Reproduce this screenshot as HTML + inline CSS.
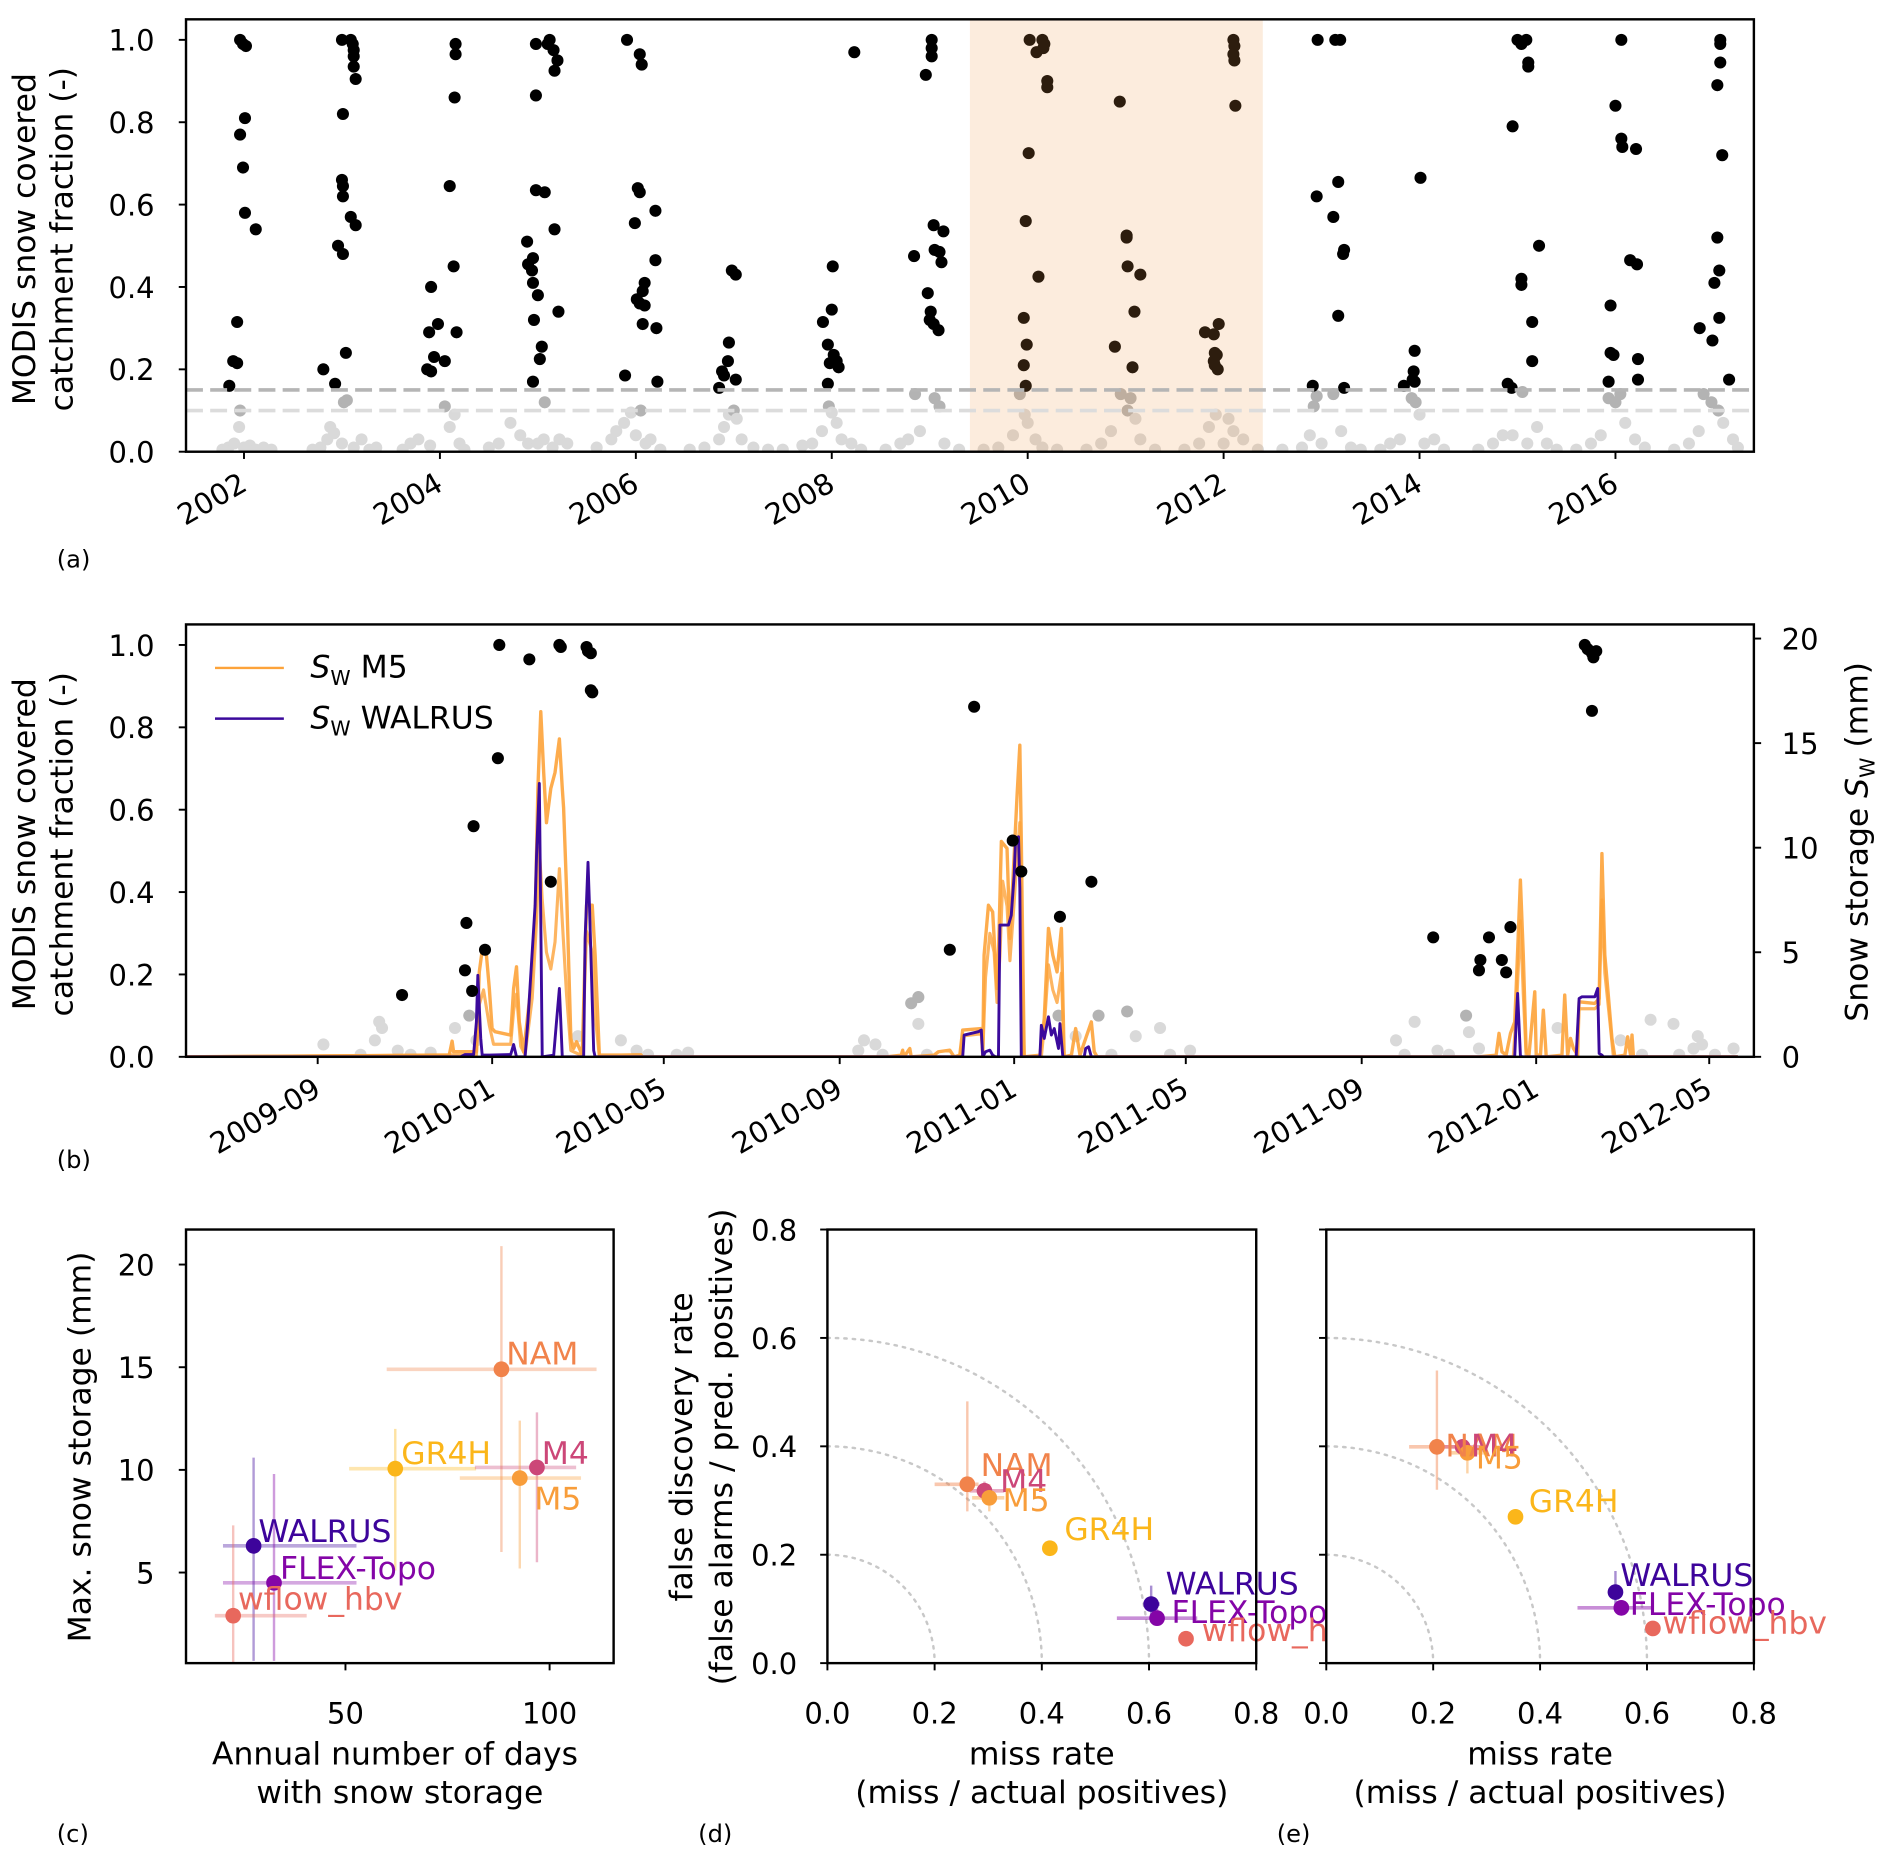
<!DOCTYPE html>
<html><head><meta charset="utf-8"><title>MODIS snow cover and model snow storage</title>
<style>
html,body{margin:0;padding:0;background:#fff;}
svg{display:block;font-family:"DejaVu Sans","Liberation Sans",sans-serif;}
</style></head>
<body>
<svg id="fig" xmlns="http://www.w3.org/2000/svg" width="1894" height="1860" viewBox="0 0 1568 1540" preserveAspectRatio="none">
<defs>
<clipPath id="clipA"><rect x="154" y="16" width="1298" height="357"/></clipPath>
<clipPath id="clipB"><rect x="154" y="517" width="1298" height="358"/></clipPath>
<clipPath id="clipC"><rect x="154" y="1018" width="354" height="359"/></clipPath>
<clipPath id="clipDlab"><rect x="0" y="1000" width="1098" height="400"/></clipPath>
<clipPath id="clipElab"><rect x="1090" y="1000" width="500" height="400"/></clipPath>
</defs>
<rect x="0" y="0" width="1568" height="1540" fill="#fff"/>
</svg>
<script>
// ---------------- DATA ----------------
const modisDetected = [
[2001.96,1.0],[2001.99,0.99],[2002.02,0.985],[2002.01,0.81],[2001.96,0.77],[2001.99,0.69],[2002.01,0.58],[2002.12,0.54],[2001.93,0.315],[2001.89,0.22],[2001.93,0.215],[2001.85,0.16],
[2003.0,1.0],[2003.09,1.0],[2003.11,0.99],[2003.12,0.975],[2003.12,0.96],[2003.12,0.935],[2003.14,0.905],[2003.01,0.82],[2003.0,0.66],[2003.01,0.645],[2003.01,0.62],[2003.09,0.57],[2003.14,0.55],[2002.96,0.50],[2003.01,0.48],[2003.04,0.24],[2002.81,0.20],[2002.93,0.165],
[2004.16,0.99],[2004.16,0.965],[2004.15,0.86],[2004.10,0.645],[2004.14,0.45],[2003.91,0.40],[2003.89,0.29],[2003.98,0.31],[2004.05,0.22],[2004.17,0.29],[2003.94,0.23],[2003.87,0.20],[2003.91,0.195],
[2004.98,0.99],[2005.12,1.0],[2005.10,0.99],[2005.16,0.975],[2005.20,0.95],[2005.17,0.925],[2004.98,0.865],[2004.98,0.635],[2005.07,0.63],[2005.17,0.54],[2004.89,0.51],[2004.95,0.47],[2004.90,0.455],[2004.94,0.44],[2004.95,0.41],[2005.0,0.38],[2005.21,0.34],[2004.96,0.32],[2005.04,0.255],[2005.02,0.225],[2004.95,0.17],
[2005.91,1.0],[2006.04,0.965],[2006.06,0.94],[2006.02,0.64],[2006.04,0.63],[2006.2,0.585],[2005.99,0.555],[2006.2,0.465],[2006.09,0.41],[2006.07,0.39],[2006.01,0.37],[2006.04,0.36],[2006.09,0.355],[2006.07,0.31],[2006.21,0.30],[2005.89,0.185],[2006.22,0.17],
[2006.98,0.44],[2007.02,0.43],[2006.95,0.265],[2006.94,0.22],[2006.88,0.195],[2006.90,0.185],[2007.02,0.175],[2006.85,0.155],
[2008.23,0.97],[2008.01,0.45],[2008.0,0.345],[2007.91,0.315],[2007.96,0.26],[2008.02,0.235],[2008.05,0.22],[2007.98,0.215],[2008.07,0.205],[2007.96,0.165],
[2009.02,1.0],[2009.02,0.98],[2009.02,0.96],[2008.96,0.915],[2009.04,0.55],[2009.14,0.535],[2008.84,0.475],[2009.05,0.49],[2009.10,0.485],[2009.12,0.46],[2008.98,0.385],[2009.01,0.34],[2009.0,0.32],[2009.04,0.31],[2009.09,0.295],
[2010.02,1.0],[2010.15,1.0],[2010.17,0.99],[2010.16,0.98],[2010.09,0.97],[2010.2,0.9],[2010.2,0.885],[2010.01,0.725],[2009.98,0.56],[2010.11,0.425],[2009.96,0.325],[2009.99,0.26],[2009.96,0.21],[2009.98,0.16],
[2010.94,0.85],[2011.01,0.525],[2011.01,0.52],[2011.02,0.45],[2011.15,0.43],[2011.09,0.34],[2010.89,0.255],[2011.07,0.205],
[2012.10,1.0],[2012.11,0.985],[2012.10,0.965],[2012.11,0.95],[2012.12,0.84],[2011.95,0.31],[2011.81,0.29],[2011.90,0.285],[2011.91,0.24],[2011.93,0.235],[2011.90,0.22],[2011.91,0.21],[2011.94,0.20],
[2012.96,1.0],[2013.14,1.0],[2013.19,1.0],[2012.95,0.62],[2013.12,0.57],[2013.17,0.655],[2013.23,0.49],[2013.22,0.48],[2013.17,0.33],[2012.91,0.16],[2013.23,0.155],
[2014.01,0.665],[2013.95,0.245],[2013.94,0.195],[2013.93,0.175],[2013.84,0.16],[2013.95,0.17],
[2015.0,1.0],[2015.09,1.0],[2015.04,0.99],[2015.11,0.945],[2015.11,0.935],[2014.95,0.79],[2015.22,0.50],[2015.04,0.42],[2015.04,0.405],[2015.15,0.315],[2015.15,0.22],[2014.9,0.165],[2014.94,0.155],
[2016.06,1.0],[2016.0,0.84],[2016.06,0.76],[2016.07,0.74],[2016.21,0.735],[2016.15,0.465],[2016.22,0.455],[2015.95,0.355],[2015.95,0.24],[2015.98,0.235],[2016.23,0.225],[2016.23,0.175],[2015.93,0.17],
[2017.07,1.0],[2017.07,0.99],[2017.07,0.945],[2017.04,0.89],[2017.09,0.72],[2017.04,0.52],[2017.06,0.44],[2017.01,0.41],[2017.06,0.325],[2016.99,0.27],[2016.86,0.30],[2017.16,0.175]
];
const modisLow = [
[2001.78,0.005],[2001.84,0.01],[2001.9,0.02],[2001.95,0.06],[2001.96,0.1],[2002.0,0.01],[2002.06,0.015],[2002.12,0.005],[2002.2,0.01],[2002.28,0.005],
[2002.7,0.005],[2002.78,0.01],[2002.85,0.03],[2002.88,0.06],[2002.92,0.045],[2003.02,0.12],[2003.05,0.125],[2003.0,0.02],[2003.12,0.01],[2003.2,0.03],[2003.28,0.005],[2003.35,0.01],
[2003.62,0.005],[2003.7,0.02],[2003.78,0.03],[2003.9,0.015],[2004.05,0.11],[2004.1,0.06],[2004.15,0.09],[2004.2,0.02],[2004.25,0.005],
[2004.5,0.01],[2004.6,0.02],[2004.72,0.07],[2004.82,0.04],[2004.9,0.02],[2005.0,0.02],[2005.06,0.03],[2005.07,0.12],[2005.15,0.01],[2005.22,0.03],[2005.3,0.02],
[2005.6,0.01],[2005.75,0.03],[2005.8,0.05],[2005.88,0.07],[2005.95,0.095],[2006.0,0.04],[2006.05,0.1],[2006.1,0.02],[2006.15,0.03],[2006.25,0.005],
[2006.55,0.005],[2006.7,0.01],[2006.85,0.03],[2006.9,0.06],[2006.95,0.09],[2007.0,0.1],[2007.03,0.08],[2007.08,0.03],[2007.2,0.01],[2007.35,0.005],
[2007.5,0.005],[2007.7,0.015],[2007.8,0.02],[2007.9,0.05],[2007.97,0.11],[2008.0,0.095],[2008.05,0.07],[2008.1,0.03],[2008.2,0.02],[2008.3,0.005],
[2008.55,0.005],[2008.7,0.02],[2008.78,0.03],[2008.85,0.14],[2008.9,0.05],[2009.05,0.13],[2009.1,0.11],[2009.15,0.02],[2009.3,0.005],
[2009.55,0.005],[2009.7,0.01],[2009.85,0.04],[2009.92,0.14],[2009.97,0.09],[2010.0,0.07],[2010.08,0.03],[2010.15,0.01],[2010.3,0.005],
[2010.6,0.005],[2010.75,0.02],[2010.85,0.05],[2010.95,0.14],[2011.02,0.1],[2011.05,0.13],[2011.1,0.08],[2011.15,0.03],[2011.3,0.005],
[2011.6,0.005],[2011.75,0.02],[2011.85,0.06],[2011.92,0.09],[2012.0,0.02],[2012.05,0.08],[2012.1,0.05],[2012.2,0.03],[2012.35,0.005],
[2012.6,0.005],[2012.8,0.01],[2012.88,0.04],[2012.92,0.11],[2012.95,0.135],[2013.0,0.02],[2013.12,0.14],[2013.2,0.05],[2013.3,0.01],[2013.4,0.005],
[2013.6,0.005],[2013.7,0.02],[2013.8,0.03],[2013.92,0.13],[2013.96,0.12],[2014.0,0.09],[2014.05,0.02],[2014.15,0.03],[2014.25,0.005],
[2014.6,0.005],[2014.75,0.02],[2014.85,0.04],[2014.95,0.04],[2015.05,0.145],[2015.1,0.02],[2015.2,0.06],[2015.3,0.02],[2015.4,0.005],
[2015.6,0.005],[2015.75,0.02],[2015.85,0.04],[2015.93,0.13],[2016.0,0.12],[2016.05,0.14],[2016.1,0.07],[2016.2,0.03],[2016.3,0.01],
[2016.6,0.005],[2016.75,0.02],[2016.85,0.05],[2016.9,0.14],[2016.98,0.12],[2017.05,0.1],[2017.1,0.07],[2017.2,0.03],[2017.25,0.01]
];
const yearTicks = [2002,2004,2006,2008,2010,2012,2014,2016];
const fracTicks = [0.0,0.2,0.4,0.6,0.8,1.0];
const thresholds = [0.15,0.10];
const focusPeriod = [2009.41,2012.40];

const modisZoom = [
["2010-01-06",1.0],["2010-01-27",0.965],["2010-02-17",1.0],["2010-02-18",0.995],["2010-03-08",0.995],["2010-03-09",0.985],["2010-03-11",0.98],["2010-03-11",0.89],["2010-03-12",0.885],["2010-01-05",0.725],["2009-12-19",0.56],["2010-02-11",0.425],["2009-12-14",0.325],["2009-12-27",0.26],["2009-12-13",0.21],["2009-12-18",0.16],
["2010-12-04",0.85],["2010-12-31",0.525],["2011-01-06",0.45],["2011-02-02",0.34],["2011-02-24",0.425],["2010-11-17",0.26],
["2011-10-21",0.29],["2011-11-29",0.29],["2011-12-14",0.315],["2011-11-23",0.235],["2011-12-08",0.235],["2011-11-22",0.21],["2011-12-11",0.205],["2012-02-04",1.0],["2012-02-06",0.99],["2012-02-09",0.98],["2012-02-12",0.985],["2012-02-10",0.97],["2012-02-09",0.84],
["2009-10-30",0.15],["2009-09-05",0.03],["2009-10-14",0.085],["2009-10-16",0.07],["2009-10-11",0.04],["2009-10-27",0.015],["2009-11-19",0.01],["2009-12-06",0.07],["2009-12-16",0.1],["2009-12-21",0.04],["2010-03-02",0.05],["2010-04-01",0.04],["2010-04-12",0.015],["2010-05-18",0.01],
["2010-09-18",0.04],["2010-09-26",0.03],["2010-10-21",0.13],["2010-10-26",0.145],["2010-10-26",0.08],["2010-09-14",0.015],["2011-02-01",0.1],["2011-03-01",0.1],["2011-03-21",0.11],["2011-03-27",0.05],["2011-04-13",0.07],["2011-05-04",0.015],["2011-02-13",0.05],
["2011-09-25",0.04],["2011-10-08",0.085],["2011-10-24",0.015],["2011-11-13",0.1],["2011-11-15",0.06],["2011-11-22",0.02],["2012-01-16",0.07],["2012-02-29",0.04],["2012-03-21",0.09],["2012-04-06",0.08],["2012-04-23",0.05],["2012-04-26",0.03],["2012-05-18",0.02],["2012-04-20",0.02],
["2009-10-01",0.005],["2009-11-05",0.005],["2010-04-20",0.005],["2010-05-10",0.005],["2010-10-01",0.005],["2010-11-01",0.005],["2011-03-10",0.005],["2011-04-20",0.005],["2011-10-01",0.005],["2011-11-01",0.005],["2012-03-15",0.005],["2012-04-10",0.005],["2012-05-05",0.005]
];
const swM5Upper = [
["2009-06-01",0],["2009-11-25",0.08],["2009-12-02",0.08],["2009-12-04",0.75],["2009-12-05",0.24],["2009-12-21",0.24],["2009-12-23",4.06],["2009-12-25",5.1],["2009-12-28",4.86],["2009-12-30",3.27],["2010-01-01",1.35],["2010-01-03",1.2],["2010-01-14",1.04],["2010-01-16",3.27],["2010-01-18",4.3],["2010-01-20",1.67],["2010-01-23",0.24],["2010-01-28",3.27],["2010-01-31",6.46],["2010-02-02",12.83],["2010-02-04",16.5],["2010-02-06",13.6],["2010-02-08",11.2],["2010-02-11",12.83],["2010-02-14",13.6],["2010-02-17",15.2],["2010-02-19",12.83],["2010-02-20",11.9],["2010-02-22",8.05],["2010-02-25",0.88],["2010-02-27",0.4],["2010-03-01",0.72],["2010-03-05",0.08],["2010-03-08",7.25],["2010-03-12",7.25],["2010-03-14",4.86],["2010-03-17",0.08],["2010-04-01",0.08],["2010-04-15",0.1],["2010-04-16",0],
["2010-10-04",0],["2010-10-14",0.08],["2010-10-15",0.32],["2010-10-16",0],["2010-10-20",0.4],["2010-10-21",0],["2010-11-06",0.08],["2010-11-09",0.24],["2010-11-17",0.32],["2010-11-20",0],["2010-11-24",0.08],["2010-11-26",1.28],["2010-12-09",1.35],["2010-12-10",0.08],["2010-12-11",4.86],["2010-12-14",7.25],["2010-12-17",6.93],["2010-12-20",3.27],["2010-12-21",4.86],["2010-12-23",10.3],["2010-12-27",9.96],["2010-12-29",5.66],["2011-01-01",9.64],["2011-01-03",12.5],["2011-01-05",14.9],["2011-01-06",10.4],["2011-01-08",0],["2011-01-19",0.08],["2011-01-22",1.83],["2011-01-25",6.14],["2011-01-28",4.86],["2011-01-31",4.06],["2011-02-03",6.14],["2011-02-05",0],["2011-02-10",0.08],["2011-02-13",1.35],["2011-02-16",0.08],["2011-02-20",0.88],["2011-02-24",1.67],["2011-02-26",0.24],["2011-02-28",0],
["2011-11-22",0],["2011-12-04",0.08],["2011-12-06",1.12],["2011-12-08",0.24],["2011-12-11",0.08],["2011-12-14",1.12],["2011-12-17",1.67],["2011-12-18",3.27],["2011-12-21",8.45],["2011-12-23",4.86],["2011-12-25",0.24],["2011-12-27",0.08],["2011-12-31",3.11],["2012-01-01",0.08],["2012-01-04",0.08],["2012-01-06",2.23],["2012-01-08",0],["2012-01-19",0.08],["2012-01-21",2.95],["2012-01-23",0.08],["2012-01-25",0.88],["2012-01-27",0.4],["2012-01-30",0.08],["2012-01-31",2.63],["2012-02-11",2.55],["2012-02-14",2.79],["2012-02-16",9.72],["2012-02-18",4.86],["2012-02-20",3.27],["2012-02-23",0.88],["2012-02-25",0],["2012-03-03",0.08],["2012-03-05",0.96],["2012-03-07",0.08],["2012-03-08",1.04],["2012-03-09",0],["2012-05-21",0]
];
const swM5Lower = [
["2009-06-01",0],["2009-12-21",0.1],["2009-12-23",2.5],["2009-12-26",3.2],["2009-12-30",1.5],["2010-01-02",0.6],["2010-01-14",0.6],["2010-01-16",2.2],["2010-01-18",3.0],["2010-01-21",0.5],["2010-01-24",0.1],["2010-01-29",2.8],["2010-02-01",6.5],["2010-02-03",10.0],["2010-02-05",7.5],["2010-02-08",5.0],["2010-02-11",4.2],["2010-02-14",5.5],["2010-02-17",9.0],["2010-02-19",6.5],["2010-02-22",3.0],["2010-02-25",0.3],["2010-03-05",0.05],["2010-03-08",6.0],["2010-03-12",5.0],["2010-03-14",2.0],["2010-03-17",0],
["2010-11-24",0],["2010-11-26",1.0],["2010-12-09",1.1],["2010-12-10",0.05],["2010-12-12",3.8],["2010-12-15",5.9],["2010-12-18",5.0],["2010-12-20",2.6],["2010-12-22",4.8],["2010-12-24",8.4],["2010-12-27",7.2],["2010-12-29",4.6],["2011-01-01",7.4],["2011-01-03",9.6],["2011-01-05",11.2],["2011-01-06",7.0],["2011-01-08",0],["2011-01-20",0],["2011-01-22",1.4],["2011-01-25",4.4],["2011-01-28",3.2],["2011-01-31",2.6],["2011-02-03",4.0],["2011-02-05",0],
["2011-12-16",0],["2011-12-18",2.0],["2011-12-21",6.5],["2011-12-23",3.0],["2011-12-25",0],["2012-01-29",0],["2012-01-31",2.3],["2012-02-11",2.3],["2012-02-14",2.5],["2012-02-16",7.5],["2012-02-18",4.0],["2012-02-21",2.0],["2012-02-24",0],["2012-05-21",0]
];
const swWalrus = [
["2009-06-01",0],["2009-12-10",0],["2009-12-13",0.11],["2009-12-19",0.11],["2009-12-21",1.67],["2009-12-22",3.9],["2009-12-24",0.88],["2009-12-25",0.08],["2009-12-30",0.08],["2010-01-14",0.11],["2010-01-16",0.59],["2010-01-18",0],["2010-01-24",0],["2010-01-26",1.67],["2010-01-28",3.9],["2010-01-31",7.25],["2010-02-01",9.64],["2010-02-03",13.07],["2010-02-05",0],["2010-02-13",0.08],["2010-02-15",1.67],["2010-02-17",3.27],["2010-02-19",0],["2010-03-06",0],["2010-03-07",5.66],["2010-03-09",9.3],["2010-03-10",7.25],["2010-03-13",0.3],["2010-03-14",0],
["2010-11-26",0],["2010-11-27",1.04],["2010-12-07",1.2],["2010-12-09",1.28],["2010-12-10",0],["2010-12-12",0.24],["2010-12-15",0.32],["2010-12-17",0.08],["2010-12-19",0],["2010-12-21",0],["2010-12-22",6.3],["2010-12-28",6.3],["2010-12-30",6.77],["2011-01-01",8.69],["2011-01-02",10.44],["2011-01-04",10.52],["2011-01-05",8.05],["2011-01-06",0],["2011-01-19",0],["2011-01-20",1.51],["2011-01-22",0.88],["2011-01-25",1.91],["2011-01-27",1.04],["2011-01-29",1.35],["2011-02-01",0.4],["2011-02-02",1.59],["2011-02-04",0],["2011-02-19",0],["2011-02-20",0.4],["2011-02-22",0.48],["2011-02-24",0],
["2011-12-17",0],["2011-12-18",1.67],["2011-12-19",3.03],["2011-12-21",0.08],["2011-12-22",0],["2012-01-29",0],["2012-01-31",2.79],["2012-02-02",2.87],["2012-02-11",2.87],["2012-02-13",3.27],["2012-02-14",0.16],["2012-02-16",0.08],["2012-02-17",0],["2012-05-21",0]
];
const dateTicks = ["2009-09-01","2010-01-01","2010-05-01","2010-09-01","2011-01-01","2011-05-01","2011-09-01","2012-01-01","2012-05-01"];
const storageTicks = [0,5,10,15,20];

const models = ["NAM","GR4H","M4","M5","WALRUS","FLEX-Topo","wflow_hbv"];
const modelColors = ["#f1834b","#fbb61a","#cc4778","#f89d3a","#3d049b","#8405a7","#e8685d"];
const daysMean = [88.2,62.2,96.9,92.7,27.5,32.5,22.5];
const daysLow  = [60.1,50.9,81.7,78.0,20.0,20.0,18.0];
const daysHigh = [111.5,82.0,106.5,107.7,52.7,52.7,40.5];
const maxSwMean = [14.9,10.06,10.12,9.6,6.3,4.5,2.9];
const maxSwLow  = [6.0,5.1,5.5,5.2,0.7,0.7,0.0];
const maxSwHigh = [20.9,12.0,12.8,12.4,10.6,9.8,7.3];
const missD = [0.261,0.415,0.293,0.302,0.604,0.615,0.669];
const missDLow = [0.20,0.41,0.265,0.27,0.59,0.54,0.66];
const missDHigh = [0.282,0.42,0.33,0.33,0.62,0.69,0.68];
const fdrD = [0.33,0.212,0.318,0.305,0.109,0.083,0.045];
const fdrDLow = [0.28,0.205,0.30,0.28,0.075,0.07,0.04];
const fdrDHigh = [0.483,0.215,0.335,0.33,0.143,0.10,0.05];
const missE = [0.207,0.354,0.255,0.264,0.541,0.552,0.611];
const missELow = [0.155,0.35,0.20,0.23,0.53,0.47,0.605];
const missEHigh = [0.265,0.36,0.29,0.30,0.55,0.61,0.62];
const fdrE = [0.399,0.27,0.399,0.388,0.131,0.102,0.064];
const fdrELow = [0.32,0.265,0.38,0.35,0.10,0.09,0.06];
const fdrEHigh = [0.54,0.275,0.41,0.40,0.17,0.115,0.07];
const daysTicks = [50,100];
const maxSwTicks = [5,10,15,20];
const rateTicks = [0.0,0.2,0.4,0.6,0.8];
const arcRadii = [0.2,0.4,0.6];

// ---------------- HELPERS ----------------
const NS = "http://www.w3.org/2000/svg";
const svg = document.getElementById("fig");
function mk(tag, attrs, parent){
  const e = document.createElementNS(NS, tag);
  for (const k in attrs) e.setAttribute(k, attrs[k]);
  (parent || svg).appendChild(e);
  return e;
}
function txt(x, y, s, attrs, parent){
  const t = mk("text", Object.assign({x:x, y:y, fill:"#000"}, attrs), parent);
  t.textContent = s;
  return t;
}
const TICK_FS = 24, LAB_FS = 26;
const day0 = Date.parse("2009-09-01");
function dayOf(s){ return (Date.parse(s) - day0) / 864e5; }

// ---------------- PANEL (a) ----------------
const xa = yr => 202 + (yr - 2002) * 81.1;
const ya = v => 374 - v * 341;
const gA = mk("g", {"clip-path":"url(#clipA)"});


modisLow.forEach(p => {
  const c = mk("circle", {cx:xa(p[0]), cy:ya(p[1]), r:5, fill: p[1] >= 0.1 ? "#b3b3b3" : "#d9d9d9"}, gA);
  
  
});
modisDetected.forEach(p => {
  const c = mk("circle", {cx:xa(p[0]), cy:ya(p[1]), r:5, fill:"#000"}, gA);
  
  
});
const shade = mk("rect", {x:xa(focusPeriod[0]), y:16, width:xa(focusPeriod[1]) - xa(focusPeriod[0]), height:358, fill:"rgb(237,153,74)", "fill-opacity":0.19}, gA);


thresholds.forEach((t, i) => {
  const l = mk("line", {x1:154, x2:1452, y1:ya(t), y2:ya(t), stroke: i === 0 ? "#b5b5b5" : "#dcdcdc", "stroke-width":3, "stroke-dasharray":"14 6"}, gA);
  
  
});
const frA = mk("rect", {x:154, y:16, width:1298, height:358, fill:"none", stroke:"#000", "stroke-width":2});


fracTicks.forEach(v => {
  const tk = mk("line", {x1:148, x2:154, y1:ya(v), y2:ya(v), stroke:"#000", "stroke-width":1.6});
  
  
  const tl = txt(128, ya(v) + 9, v.toFixed(1), {"text-anchor":"end", "font-size":TICK_FS});
  
  
});
yearTicks.forEach(yr => {
  const tk = mk("line", {x1:xa(yr), x2:xa(yr), y1:374, y2:380, stroke:"#000", "stroke-width":1.6});
  
  
  const tl = txt(0, 0, String(yr), {"text-anchor":"end", "font-size":24, transform:"translate(" + (xa(yr) + 4) + ",405) rotate(-30)"});
  
  
});
function ylabel2(cx, cy, l1, l2, name){
  const g = mk("g", {transform:"translate(" + cx + "," + cy + ") rotate(-90)"});
  
  
  txt(0, -7, l1, {"text-anchor":"middle", "font-size":LAB_FS}, g);
  txt(0, 24, l2, {"text-anchor":"middle", "font-size":LAB_FS}, g);
  return g;
}
ylabel2(36, 198, "MODIS snow covered", "catchment fraction (-)", "panel-a-y-axis-title");
const la = txt(47, 470, "(a)", {"font-size":20});



// ---------------- PANEL (b) ----------------
const xb = d => 263 + dayOf(d) * 1.184;
const yb = v => 875 - v * 341;
const yb2 = mm => 875 - mm * 17.315;
const gB = mk("g", {"clip-path":"url(#clipB)"});


modisZoom.filter(p => p[1] < 0.15).forEach(p => {
  const c = mk("circle", {cx:xb(p[0]), cy:yb(p[1]), r:5, fill: p[1] >= 0.1 ? "#b3b3b3" : "#d9d9d9"}, gB);
  
  
});
function seriesPath(arr){ return arr.map((p, i) => (i ? "L" : "M") + xb(p[0]).toFixed(1) + "," + yb2(p[1]).toFixed(1)).join(" "); }
const m5l = mk("path", {d:seriesPath(swM5Lower), fill:"none", stroke:"#fda33a", "stroke-width":2.6, "stroke-opacity":0.8, "stroke-linejoin":"round"}, gB);


const m5u = mk("path", {d:seriesPath(swM5Upper), fill:"none", stroke:"#fda33a", "stroke-width":2.8, "stroke-opacity":0.9, "stroke-linejoin":"round"}, gB);


const wl = mk("path", {d:seriesPath(swWalrus), fill:"none", stroke:"#3b0a9c", "stroke-width":2.4, "stroke-linejoin":"round"}, gB);


modisZoom.filter(p => p[1] >= 0.15).forEach(p => {
  const c = mk("circle", {cx:xb(p[0]), cy:yb(p[1]), r:5, fill:"#000"}, gB);
  
  
});
const frB = mk("rect", {x:154, y:517, width:1298, height:358, fill:"none", stroke:"#000", "stroke-width":2});


fracTicks.forEach(v => {
  const tk = mk("line", {x1:148, x2:154, y1:yb(v), y2:yb(v), stroke:"#000", "stroke-width":1.6});
  
  
  const tl = txt(128, yb(v) + 9, v.toFixed(1), {"text-anchor":"end", "font-size":TICK_FS});
  
  
});
storageTicks.forEach(v => {
  const tk = mk("line", {x1:1452, x2:1458, y1:yb2(v), y2:yb2(v), stroke:"#000", "stroke-width":1.6});
  
  
  const tl = txt(1475, yb2(v) + 9, String(v), {"font-size":TICK_FS});
  
  
});
dateTicks.forEach(d => {
  const x = xb(d);
  const tk = mk("line", {x1:x, x2:x, y1:875, y2:881, stroke:"#000", "stroke-width":1.6});
  
  
  const tl = txt(0, 0, d.slice(0, 7), {"text-anchor":"end", "font-size":24, transform:"translate(" + (x + 4) + ",906) rotate(-30)"});
  
  
});
ylabel2(36, 699, "MODIS snow covered", "catchment fraction (-)", "panel-b-y-axis-title");
const rl = mk("text", {x:0, y:0, "text-anchor":"middle", "font-size":LAB_FS, transform:"translate(1546,697) rotate(-90)"});


rl.innerHTML = 'Snow storage <tspan font-style="italic">S</tspan><tspan font-size="17" dy="6">W</tspan><tspan dy="-6"> (mm)</tspan>';
const lg = mk("g", {});


const le1 = mk("line", {x1:178, x2:235, y1:553, y2:553, stroke:"#fda33a", "stroke-width":2}, lg);


const lt1 = mk("text", {x:257, y:561, "font-size":LAB_FS}, lg);


lt1.innerHTML = '<tspan font-style="italic">S</tspan><tspan font-size="17" dy="6">W</tspan><tspan dy="-6"> M5</tspan>';
const le2 = mk("line", {x1:178, x2:235, y1:595, y2:595, stroke:"#3b0a9c", "stroke-width":2}, lg);


const lt2 = mk("text", {x:257, y:603, "font-size":LAB_FS}, lg);


lt2.innerHTML = '<tspan font-style="italic">S</tspan><tspan font-size="17" dy="6">W</tspan><tspan dy="-6"> WALRUS</tspan>';
const lb = txt(47, 967, "(b)", {"font-size":20});



// ---------------- PANEL (c) ----------------
const xc = v => 286 + (v - 50) * 3.38;
const yc = v => 1387 - v * 17;
const gC = mk("g", {"clip-path":"url(#clipC)"});


const labOffC = [[4,-4],[5,-4],[4,-3],[12,26],[4,-3],[5,-3],[4,-5]];
models.forEach((m, i) => {
  const col = modelColors[i];
  const h = mk("line", {x1:xc(daysLow[i]), x2:xc(daysHigh[i]), y1:yc(maxSwMean[i]), y2:yc(maxSwMean[i]), stroke:col, "stroke-width":3, "stroke-opacity":0.35}, gC);
  
  
  const v = mk("line", {x1:xc(daysMean[i]), x2:xc(daysMean[i]), y1:yc(maxSwLow[i]), y2:yc(maxSwHigh[i]), stroke:col, "stroke-width":2, "stroke-opacity":0.4}, gC);
  
  
});
models.forEach((m, i) => {
  const p = mk("circle", {cx:xc(daysMean[i]), cy:yc(maxSwMean[i]), r:6.5, fill:modelColors[i]}, gC);
  
  
  const t = txt(xc(daysMean[i]) + labOffC[i][0], yc(maxSwMean[i]) + labOffC[i][1], m, {"font-size":LAB_FS, fill:modelColors[i]});
  
  
});
const frC = mk("rect", {x:154, y:1018, width:354, height:359, fill:"none", stroke:"#000", "stroke-width":2});


daysTicks.forEach(v => {
  const tk = mk("line", {x1:xc(v), x2:xc(v), y1:1377, y2:1383, stroke:"#000", "stroke-width":1.6});
  
  
  const tl = txt(xc(v), 1427, String(v), {"text-anchor":"middle", "font-size":TICK_FS});
  
  
});
maxSwTicks.forEach(v => {
  const tk = mk("line", {x1:148, x2:154, y1:yc(v), y2:yc(v), stroke:"#000", "stroke-width":1.6});
  
  
  const tl = txt(128, yc(v) + 9, String(v), {"text-anchor":"end", "font-size":TICK_FS});
  
  
});
const cyl = txt(0, 0, "Max. snow storage (mm)", {"text-anchor":"middle", "font-size":LAB_FS, transform:"translate(75,1198) rotate(-90)"});


const cx1 = txt(327, 1461, "Annual number of days", {"text-anchor":"middle", "font-size":LAB_FS});


const cx2 = txt(331, 1493, "with snow storage", {"text-anchor":"middle", "font-size":LAB_FS});


const lc = txt(47, 1525, "(c)", {"font-size":20});



// ---------------- PANELS (d) & (e) ----------------
const yr = v => 1377 - v * 448.75;
function drawRatePanel(left, sx, miss, mLo, mHi, fdr, fLo, fHi, offs, clipId, panelName){
  const xr = v => left + v * sx;
  const bg = mk("rect", {x:left, y:1018, width:0.8 * sx, height:359, fill:"#fff"});
  
  
  const g = mk("g", {"clip-path":"url(#" + clipId + ")"});
  
  
  arcRadii.forEach(r => {
    const a = mk("path", {d:"M" + xr(0) + "," + yr(r) + " A" + (r * sx) + "," + (r * 448.75) + " 0 0 1 " + xr(r) + "," + yr(0), fill:"none", stroke:"#c8c8c8", "stroke-width":2, "stroke-dasharray":"2 5", "stroke-linecap":"round"}, g);
    
    
  });
  models.forEach((m, i) => {
    const col = modelColors[i];
    const h = mk("line", {x1:xr(mLo[i]), x2:xr(mHi[i]), y1:yr(fdr[i]), y2:yr(fdr[i]), stroke:col, "stroke-width":3, "stroke-opacity":0.45}, g);
    
    
    const v = mk("line", {x1:xr(miss[i]), x2:xr(miss[i]), y1:yr(fLo[i]), y2:yr(fHi[i]), stroke:col, "stroke-width":2, "stroke-opacity":0.45}, g);
    
    
  });
  models.forEach((m, i) => {
    const p = mk("circle", {cx:xr(miss[i]), cy:yr(fdr[i]), r:6.5, fill:modelColors[i]}, g);
    
    
  });
  models.forEach((m, i) => {
    const t = txt(xr(miss[i]) + offs[i][0], yr(fdr[i]) + offs[i][1], m, {"font-size":LAB_FS, fill:modelColors[i]}, g);
    
    
  });
  const fr = mk("rect", {x:left, y:1018, width:0.8 * sx, height:359, fill:"none", stroke:"#000", "stroke-width":2});
  
  
  rateTicks.forEach(v => {
    const tk = mk("line", {x1:xr(v), x2:xr(v), y1:1377, y2:1383, stroke:"#000", "stroke-width":1.6});
    
    
    const tl = txt(xr(v), 1427, v.toFixed(1), {"text-anchor":"middle", "font-size":TICK_FS});
    
    
    const ty = mk("line", {x1:left - 6, x2:left, y1:yr(v), y2:yr(v), stroke:"#000", "stroke-width":1.6});
    
    
  });
  const x1 = txt(left + 0.4 * sx, 1461, "miss rate", {"text-anchor":"middle", "font-size":LAB_FS});
  
  
  const x2 = txt(left + 0.4 * sx, 1493, "(miss / actual positives)", {"text-anchor":"middle", "font-size":LAB_FS});
  
  
}
const labOffD = [[11,-7],[12,-7],[13,1],[11,11],[12,-8],[12,4],[13,2]];
const labOffE = [[7,8],[11,-4],[7,8],[7,13],[4,-5],[7,6],[8,4]];
drawRatePanel(685, 443.75, missD, missDLow, missDHigh, fdrD, fdrDLow, fdrDHigh, labOffD, "clipDlab", "panel-d");
rateTicks.forEach(v => {
  const tl = txt(660, yr(v) + 9, v.toFixed(1), {"text-anchor":"end", "font-size":TICK_FS});
  
  
});
const dyl = mk("g", {transform:"translate(580,1198) rotate(-90)"});


txt(0, -7, "false discovery rate", {"text-anchor":"middle", "font-size":LAB_FS}, dyl);
txt(0, 26, "(false alarms / pred. positives)", {"text-anchor":"middle", "font-size":LAB_FS}, dyl);
drawRatePanel(1098, 442.5, missE, missELow, missEHigh, fdrE, fdrELow, fdrEHigh, labOffE, "clipElab", "panel-e");
const ld = txt(578, 1525, "(d)", {"font-size":20});


const le = txt(1057, 1525, "(e)", {"font-size":20});


</script>
</body></html>
